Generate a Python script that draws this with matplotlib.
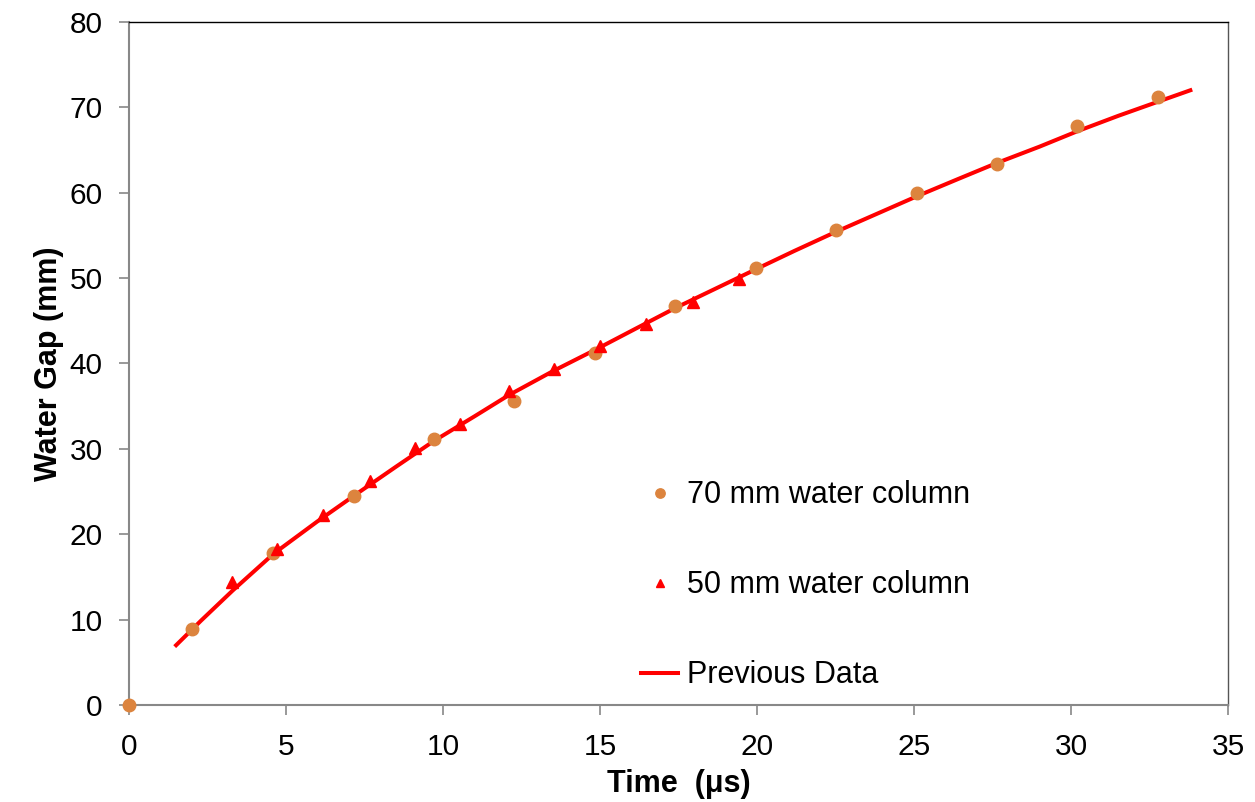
import matplotlib.pyplot as plt

plt.rcParams['font.family'] = ['Liberation Sans', 'DejaVu Sans']

# 70 mm water column
t70 = [0.0, 2.0, 4.57, 7.16, 9.7, 12.26, 14.83, 17.39, 19.96, 22.51, 25.09, 27.65, 30.2, 32.77]
gap70 = [0.0, 8.9, 17.8, 24.5, 31.2, 35.6, 41.2, 46.7, 51.2, 55.6, 60.0, 63.4, 67.8, 71.2]

# 50 mm water column
t50 = [3.27, 4.7, 6.18, 7.66, 9.12, 10.55, 12.09, 13.52, 15.0, 16.47, 17.95, 19.44]
gap50 = [14.4, 18.3, 22.3, 26.2, 30.1, 32.9, 36.8, 39.4, 42.1, 44.6, 47.2, 49.9]

# previous data curve
t_prev = [1.5, 2.3, 3.3, 4.6, 6.0, 7.2, 8.5, 9.7, 11.0, 12.1, 13.5, 14.9, 16.2,
          17.4, 18.7, 20.0, 21.2, 22.5, 23.8, 25.1, 26.4, 27.65, 29.0, 30.2, 31.5, 32.8, 33.8]
gap_prev = [7.0, 9.9, 13.4, 17.7, 21.5, 24.6, 27.9, 30.9, 33.8, 36.3, 39.1, 41.7, 44.2,
            46.5, 48.8, 51.1, 53.2, 55.4, 57.5, 59.6, 61.6, 63.5, 65.4, 67.2, 69.0, 70.7, 72.0]

fig = plt.figure(figsize=(12.55, 8.02), dpi=100)
ax = fig.add_axes([0.1028, 0.121, 0.8757, 0.8516])

ax.plot(t70, gap70, 'o', color='#DC843E', markersize=9, label='70 mm water column', clip_on=False, zorder=3)
ax.plot(t50, gap50, '^', color='#FF0000', markersize=8.5, label='50 mm water column', zorder=3)
ax.plot(t_prev, gap_prev, '-', color='#FF0000', linewidth=2.9, label='Previous Data', zorder=2)

ax.set_xlim(0, 35)
ax.set_ylim(0, 80)
ax.set_xticks(range(0, 36, 5))
ax.set_yticks(range(0, 81, 10))
ax.tick_params(direction='out', length=7, width=1.2, color='#888888', labelsize=21.5, pad=12)
ax.tick_params(axis='x', pad=13)

for side in ('left', 'bottom'):
    ax.spines[side].set_color('#888888')
    ax.spines[side].set_linewidth(1.5)
ax.spines['top'].set_color('black')
ax.spines['top'].set_linewidth(1.0)
ax.spines['right'].set_color('#555555')
ax.spines['right'].set_linewidth(1.0)

ax.set_xlabel('Time  (\u03bcs)', fontsize=22, fontweight='bold', labelpad=6)
ax.set_ylabel('Water Gap (mm)', fontsize=22, fontweight='bold', labelpad=4)

ax.legend(loc='upper left', bbox_to_anchor=(0.441, 0.369), frameon=False, fontsize=22,
          labelspacing=1.96, handlelength=1.2, handletextpad=0.3, markerscale=0.75)

fig.savefig('out.png', dpi=100)
